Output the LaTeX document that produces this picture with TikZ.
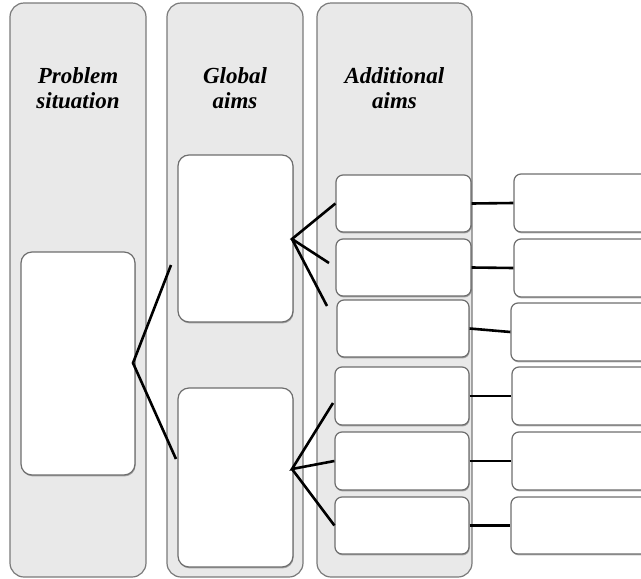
\documentclass[tikz,border=0pt]{standalone}
\usepackage{fontspec}
\setmainfont{Liberation Serif}
\usetikzlibrary{shadows}
\definecolor{colfill}{HTML}{E9E9E9}
\definecolor{colborder}{HTML}{7A7A7A}
\definecolor{boxborder}{HTML}{6E6E6E}
\begin{document}
\begin{tikzpicture}[x=1pt,y=-1pt,
  lane/.style={draw=colborder,fill=colfill,line width=1.2pt,rounded corners=14pt,
    inner sep=0pt,minimum width=#1,minimum height=574pt},
  card/.style={draw=boxborder,fill=white,line width=1.2pt,inner sep=0pt,
    drop shadow={shadow xshift=0.6pt,shadow yshift=-1.4pt,opacity=0.3,fill=black}},
  bigcard/.style={card,rounded corners=11pt},
  smallcard/.style={card,rounded corners=7pt},
  heading/.style={align=center,anchor=base,inner sep=0pt,
    font=\bfseries\itshape\fontsize{23}{25}\selectfont},
  link/.style={line width=2.6pt,black}]
\useasboundingbox (0,0) rectangle (641,579);
\clip (0,0) rectangle (641,579);

% three lanes
\node[lane=136pt] (c1) at (78,290) {};
\node[lane=136pt] (c2) at (235,290) {};
\node[lane=155pt] (c3) at (394.5,290) {};

% headings (anchored on the baseline of the last line)
\node[heading] (h1) at (78,108) {Problem\\situation};
\node[heading] (h2) at (235,108) {Global\\aims};
\node[heading] (h3) at (394.5,108) {Additional\\aims};

% problem situation
\node[bigcard,minimum width=114pt,minimum height=223pt] (p) at (78,363.5) {};

% global aims
\node[bigcard,minimum width=115pt,minimum height=167pt] (g1) at (235.5,238.5) {};
\node[bigcard,minimum width=115pt,minimum height=179pt] (g2) at (235.5,477.5) {};

% additional aims
\node[smallcard,minimum width=135pt,minimum height=57pt] (a1) at (403.5,203.5) {};
\node[smallcard,minimum width=135pt,minimum height=57pt] (a2) at (403.5,267.5) {};
\node[smallcard,minimum width=132pt,minimum height=57pt] (a3) at (403,328.5) {};
\node[smallcard,minimum width=134pt,minimum height=58pt] (a4) at (402,396) {};
\node[smallcard,minimum width=134pt,minimum height=58pt] (a5) at (402,461) {};
\node[smallcard,minimum width=134pt,minimum height=57pt] (a6) at (402,525.5) {};

% outer column
\node[smallcard,minimum width=141pt,minimum height=58pt] (r1) at (584.5,203) {};
\node[smallcard,minimum width=141pt,minimum height=58pt] (r2) at (584.5,268) {};
\node[smallcard,minimum width=144pt,minimum height=58pt] (r3) at (583,332) {};
\node[smallcard,minimum width=143pt,minimum height=58pt] (r4) at (583.5,396) {};
\node[smallcard,minimum width=143pt,minimum height=58pt] (r5) at (583.5,461) {};
\node[smallcard,minimum width=144pt,minimum height=57pt] (r6) at (583,525.5) {};

% branch points and free ends
\coordinate (pj) at (133,363);
\coordinate (pu) at (171,265);
\coordinate (pd) at (176,459);
\coordinate (gj1) at (292,239);
\coordinate (e2) at (329,263);
\coordinate (e3) at (327,306);
\coordinate (gj2) at (292,469);
\coordinate (e4) at (333,403);

\draw[link] (pu) -- (pj) -- (pd);
\draw[link] (a1.west) -- (gj1) -- (e2);
\draw[link] (gj1) -- (e3);
\draw[link] (e4) -- (gj2) -- (a5.west);
\draw[link] (gj2) -- (a6.west);

\draw[link] (a1.east) -- (r1.west);
\draw[link] (a2.east) -- (r2.west);
\draw[link] (a3.east) -- (r3.west);
\draw[link] (a4.east) -- (r4.west);
\draw[link] (a5.east) -- (r5.west);
\draw[link] (a6.east) -- (r6.west);
\end{tikzpicture}
\end{document}
